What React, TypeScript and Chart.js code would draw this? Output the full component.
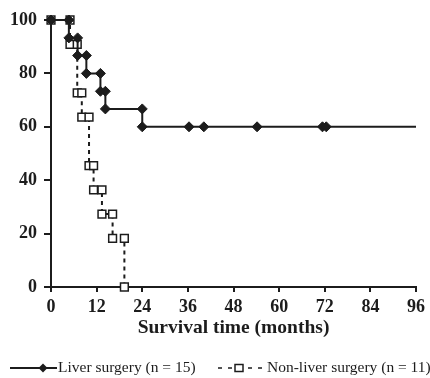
import React, { useEffect, useRef } from "react";
import { Chart, registerables } from "chart.js";

Chart.register(...registerables);

const xTicks = [0, 12, 24, 36, 48, 60, 72, 84, 96];
const yTicks = [0, 20, 40, 60, 80, 100];

const liverMonths = [0, 4.7, 4.7, 7, 7, 9.3, 9.3, 13, 13, 14.3, 14.3, 24, 24, 36.3, 40.2, 54.2, 71.4, 72.4, 96];
const liverSurvival = [100, 100, 93.3, 93.3, 86.7, 86.7, 80, 80, 73.3, 73.3, 66.7, 66.7, 60, 60, 60, 60, 60, 60, 60];
const liverMarked = [1, 1, 1, 1, 1, 1, 1, 1, 1, 1, 1, 1, 1, 1, 1, 1, 1, 1, 0];

const nonLiverMonths = [0, 5.0, 5.0, 6.9, 6.9, 8.1, 8.1, 10.0, 10.0, 11.2, 11.2, 13.4, 13.4, 16.2, 16.2, 19.3, 19.3];
const nonLiverSurvival = [100, 100, 90.9, 90.9, 72.7, 72.7, 63.6, 63.6, 45.5, 45.5, 36.4, 36.4, 27.3, 27.3, 18.2, 18.2, 0];

const seriesLabels = ["Liver surgery (n = 15)", "Non-liver surgery (n = 11)"];
const xTitle = "Survival time (months)";

const INK = "#1c1c1c";
const SERIF = "'Liberation Serif', 'DejaVu Serif', serif";

const legendPlugin = {
  id: "kmLegend",
  afterDraw(chart: any) {
    const ctx = chart.ctx;
    const y = 368;
    ctx.save();
    ctx.strokeStyle = INK;
    ctx.fillStyle = INK;
    ctx.lineWidth = 2;
    ctx.setLineDash([]);
    ctx.beginPath();
    ctx.moveTo(10, y);
    ctx.lineTo(57, y);
    ctx.stroke();
    ctx.beginPath();
    ctx.moveTo(43 - 4.5, y);
    ctx.lineTo(43, y - 4.5);
    ctx.lineTo(43 + 4.5, y);
    ctx.lineTo(43, y + 4.5);
    ctx.closePath();
    ctx.fill();
    ctx.font = `15.5px ${SERIF}`;
    ctx.textBaseline = "middle";
    ctx.textAlign = "left";
    ctx.fillText(seriesLabels[0], 58, y);
    ctx.lineWidth = 1.5;
    ctx.setLineDash([4, 6]);
    ctx.beginPath();
    ctx.moveTo(218, y);
    ctx.lineTo(266, y);
    ctx.stroke();
    ctx.setLineDash([]);
    ctx.fillStyle = "#ffffff";
    ctx.fillRect(235, y - 3.5, 8, 7);
    ctx.strokeRect(235, y - 3.5, 8, 7);
    ctx.fillStyle = INK;
    ctx.fillText(seriesLabels[1], 267, y);
    ctx.restore();
  },
};

export default function App() {
  const ref = useRef<HTMLCanvasElement | null>(null);
  useEffect(() => {
    if (!ref.current) return;
    const chart = new Chart(ref.current, {
      type: "line",
      data: {
        datasets: [
          {
            label: seriesLabels[0],
            data: liverMonths.map((m, i) => ({ x: m, y: liverSurvival[i] })),
            borderColor: INK,
            backgroundColor: INK,
            borderWidth: 2,
            stepped: "before",
            pointStyle: "rectRot",
            pointRadius: liverMarked.map((v) => (v ? 5 : 0)),
            pointBorderWidth: 1,
            pointBackgroundColor: INK,
            pointBorderColor: INK,
            clip: false,
          },
          {
            label: seriesLabels[1],
            data: nonLiverMonths.map((m, i) => ({ x: m, y: nonLiverSurvival[i] })),
            borderColor: INK,
            backgroundColor: "#ffffff",
            borderWidth: 2,
            borderDash: [4, 4],
            stepped: "before",
            pointStyle: "rect",
            pointRadius: 5.5,
            pointBorderWidth: 1.5,
            pointBackgroundColor: "#ffffff",
            pointBorderColor: INK,
            clip: false,
          },
        ],
      },
      options: {
        responsive: false,
        animation: false,
        layout: { padding: { top: 20, right: 11, bottom: 35, left: 0 } },
        plugins: { legend: { display: false }, tooltip: { enabled: false } },
        scales: {
          x: {
            type: "linear",
            min: 0,
            max: 96,
            afterFit: (s: any) => {
              s.height = 56;
            },
            afterBuildTicks: (s: any) => {
              s.ticks = xTicks.map((v) => ({ value: v }));
            },
            ticks: {
              color: INK,
              padding: 5,
              maxRotation: 0,
              font: { family: SERIF, size: 18, weight: "bold" },
            },
            grid: { drawOnChartArea: false, drawTicks: true, tickLength: 5, color: INK, lineWidth: 2 },
            border: { display: true, color: INK, width: 2 },
            title: {
              display: true,
              text: xTitle,
              color: INK,
              font: { family: SERIF, size: 19.5, weight: "bold" },
              padding: { top: 4, bottom: 3.5 },
            },
          },
          y: {
            type: "linear",
            min: 0,
            max: 100,
            afterFit: (s: any) => {
              s.width = 51;
            },
            afterBuildTicks: (s: any) => {
              s.ticks = yTicks.map((v) => ({ value: v }));
            },
            ticks: {
              color: INK,
              padding: 7,
              font: { family: SERIF, size: 18, weight: "bold" },
            },
            grid: { drawOnChartArea: false, drawTicks: true, tickLength: 7, color: INK, lineWidth: 2 },
            border: { display: true, color: INK, width: 2 },
          },
        },
      },
      plugins: [legendPlugin],
    } as any);
    return () => chart.destroy();
  }, []);
  return (
    <div style={{ position: "fixed", left: 0, top: 0, width: 430, height: 378, background: "#ffffff" }}>
      <canvas ref={ref} width={430} height={378} />
    </div>
  );
}
